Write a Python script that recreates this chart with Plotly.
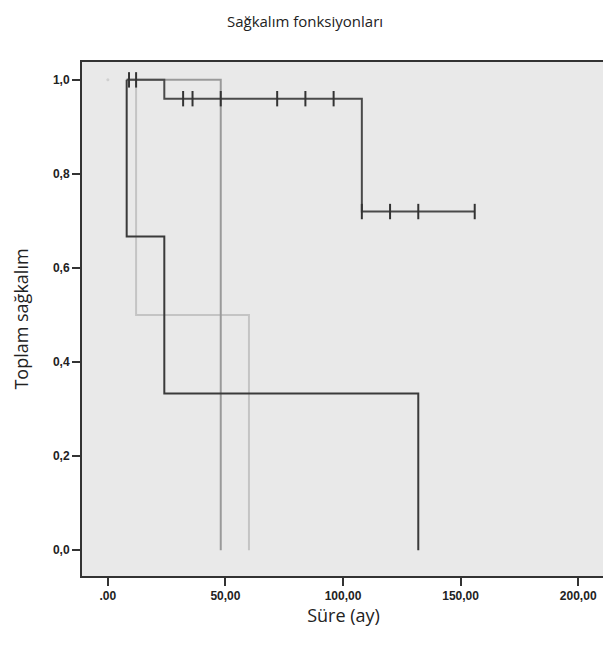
import plotly.graph_objects as go

# Kaplan-Meier step data (months, cumulative survival)
g1_time = [8, 24, 108, 156]
g1_surv = [1.0, 0.96, 0.72, 0.72]
g1_cens_time = [9, 12, 32, 36, 48, 72, 84, 96, 108, 120, 132, 156]
g1_cens_surv = [1.0, 1.0, 0.96, 0.96, 0.96, 0.96, 0.96, 0.96, 0.72, 0.72, 0.72, 0.72]

g2_time = [8, 8, 24, 132]
g2_surv = [1.0, 0.667, 0.333, 0.0]

g3_time = [8, 48]
g3_surv = [1.0, 0.0]

g4_time = [8, 12, 60]
g4_surv = [1.0, 0.5, 0.0]

start_time = [0]
start_surv = [1.0]

x_ticks = [0, 50, 100, 150, 200]
x_labels = [".00", "50,00", "100,00", "150,00", "200,00"]
y_ticks = [0.0, 0.2, 0.4, 0.6, 0.8, 1.0]
y_labels = ["0,0", "0,2", "0,4", "0,6", "0,8", "1,0"]

fig = go.Figure()

fig.add_trace(go.Scatter(x=start_time, y=start_surv, mode="markers",
                         marker=dict(size=3, color="#d0d0d0"), hoverinfo="skip"))
fig.add_trace(go.Scatter(x=g4_time, y=g4_surv, mode="lines", line_shape="hv",
                         line=dict(color="#c4c4c4", width=2)))
fig.add_trace(go.Scatter(x=g3_time, y=g3_surv, mode="lines", line_shape="hv",
                         line=dict(color="#9a9a9a", width=2)))
fig.add_trace(go.Scatter(x=g2_time, y=g2_surv, mode="lines", line_shape="hv",
                         line=dict(color="#3a3a3a", width=2)))
fig.add_trace(go.Scatter(x=g1_time, y=g1_surv, mode="lines", line_shape="hv",
                         line=dict(color="#4a4a4a", width=2)))
fig.add_trace(go.Scatter(x=g1_cens_time, y=g1_cens_surv, mode="markers",
                         marker=dict(symbol="line-ns-open", size=11, color="#333333",
                                     line=dict(color="#333333", width=2))))

# page body has an 8px margin; figure sized to fill the rest of the window
fig.update_layout(
    width=603, height=638,
    margin=dict(l=74, r=4, t=54, b=70),
    paper_bgcolor="white",
    plot_bgcolor="#e9e9e9",
    showlegend=False,
    title=dict(text="Sağkalım fonksiyonları", x=(305 - 8) / 603, xanchor="center",
               y=1 - 14 / 638, yanchor="middle",
               font=dict(family="Open Sans", size=15, color="#222")),
    font=dict(family="Open Sans", color="#222"),
)

fig.update_xaxes(
    range=[-11, 211.4], tickvals=x_ticks, ticktext=x_labels,
    showgrid=False, zeroline=False,
    showline=True, linecolor="#333", linewidth=2, mirror=True,
    ticks="outside", ticklen=8, tickwidth=2, tickcolor="#333",
    tickfont=dict(family="Liberation Sans", size=12, color="#222", weight="bold"),
    title=dict(text="Süre (ay)", font=dict(family="Open Sans", size=18, color="#222"),
               standoff=5),
)
fig.update_yaxes(
    range=[-0.055, 1.038], tickvals=y_ticks, ticktext=y_labels,
    showgrid=False, zeroline=False,
    showline=True, linecolor="#333", linewidth=2, mirror=True,
    ticks="outside", ticklen=8, tickwidth=2, tickcolor="#333",
    tickfont=dict(family="Liberation Sans", size=12, color="#222", weight="bold"),
    title=dict(text="Toplam sağkalım", font=dict(family="Open Sans", size=18, color="#222"),
               standoff=20),
)

fig.write_html("out.html")
